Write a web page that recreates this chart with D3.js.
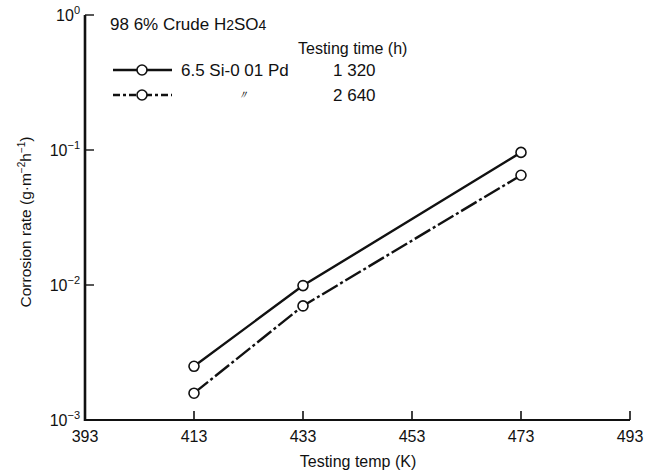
<!DOCTYPE html>
<html>
<head>
<meta charset="utf-8">
<script src="https://cdn.jsdelivr.net/npm/d3@7"></script>
<style>
  body { margin: 0; background: #fff; }
  text { font-family: "Liberation Sans", Arial, sans-serif; fill: #111; }
</style>
</head>
<body>
<svg id="chart" width="655" height="472"></svg>
<script>
// data
var temps = [413, 433, 473],
	rate1320 = [0.0025, 0.0099, 0.096],
	rate2640 = [0.00158, 0.0070, 0.065],
	xTicks = [393, 413, 433, 453, 473, 493],
	yExps = [0, -1, -2, -3],
	legendTimes = ["1 320", "2 640"];

var svg = d3.select("#chart"),
	x = d3.scaleLinear().domain([393, 493]).range([85, 630]),
	y = d3.scaleLog().domain([1e-3, 1]).range([420, 15]);

// axes lines
svg.append("line").attr("x1", x(393)).attr("x2", x(393)).attr("y1", y(1)).attr("y2", y(1e-3) + 1)
	.attr("stroke", "#111").attr("stroke-width", 2.6);
svg.append("line").attr("x1", x(393) - 1).attr("x2", x(493)).attr("y1", y(1e-3)).attr("y2", y(1e-3))
	.attr("stroke", "#111").attr("stroke-width", 2.2);

// x ticks (inward)
xTicks.forEach(function(t){
	if (t != 393)
		svg.append("line").attr("x1", x(t)).attr("x2", x(t)).attr("y1", y(1e-3)).attr("y2", y(1e-3) - 9)
			.attr("stroke", "#111").attr("stroke-width", 1.6);
	svg.append("text").attr("x", x(t)).attr("y", 442).attr("text-anchor", "middle")
		.attr("font-size", 16).text(t);
});

// y ticks
yExps.forEach(function(e){
	var v = Math.pow(10, e);
	if (e != -3)
		svg.append("line").attr("x1", x(393)).attr("x2", x(393) + 9).attr("y1", y(v)).attr("y2", y(v))
			.attr("stroke", "#111").attr("stroke-width", 1.4);
	var t = svg.append("text").attr("x", 80).attr("y", y(v) + 6).attr("text-anchor", "end").attr("font-size", 16);
	t.append("tspan").text("10");
	t.append("tspan").attr("dy", -7).attr("font-size", 11).text(e == 0 ? "0" : "\u2212" + (-e));
});

// axis titles
svg.append("text").attr("x", 358).attr("y", 467).attr("text-anchor", "middle").attr("font-size", 16)
	.text("Testing temp (K)");
var yl = svg.append("text").attr("transform", "translate(31,222) rotate(-90)")
	.attr("text-anchor", "middle").attr("font-size", 15.5);
yl.append("tspan").text("Corrosion rate (g\u00b7m");
yl.append("tspan").attr("dy", -6).attr("font-size", 10).text("\u22122");
yl.append("tspan").attr("dy", 6).text("h");
yl.append("tspan").attr("dy", -6).attr("font-size", 10).text("\u22121");
yl.append("tspan").attr("dy", 6).text(")");

// series
var series = [
	{ vals: rate1320, dash: null },
	{ vals: rate2640, dash: "18,3,3,3" }
];
var line = d3.line().x(function(d){ return x(d[0]); }).y(function(d){ return y(d[1]); });

series.forEach(function(s){
	var pts = temps.map(function(t, i){ return [t, s.vals[i]]; });
	svg.append("path").attr("d", line(pts)).attr("fill", "none").attr("stroke", "#111")
		.attr("stroke-width", 2.4).attr("stroke-dasharray", s.dash);
	svg.selectAll(null).data(pts).enter().append("circle")
		.attr("cx", function(d){ return x(d[0]); }).attr("cy", function(d){ return y(d[1]); })
		.attr("r", 5).attr("fill", "#fff").attr("stroke", "#111").attr("stroke-width", 1.6);
});

// legend
var h = svg.append("text").attr("x", 110).attr("y", 30).attr("font-size", 17);
h.append("tspan").text("98 6% Crude H");
h.append("tspan").attr("font-size", 14).text("2");
h.append("tspan").text("SO");
h.append("tspan").attr("font-size", 14).text("4");

svg.append("text").attr("x", 298).attr("y", 54).attr("font-size", 16).text("Testing time (h)");

[70, 95].forEach(function(ly, i){
	svg.append("line").attr("x1", 113).attr("x2", 172).attr("y1", ly).attr("y2", ly)
		.attr("stroke", "#111").attr("stroke-width", 2.4).attr("stroke-dasharray", i ? "7,3,3,3" : null);
	svg.append("circle").attr("cx", 142).attr("cy", ly).attr("r", 5)
		.attr("fill", "#fff").attr("stroke", "#111").attr("stroke-width", 1.6);
	svg.append("text").attr("x", 333).attr("y", ly + 6).attr("font-size", 17).text(legendTimes[i]);
});
svg.append("text").attr("x", 181).attr("y", 76).attr("font-size", 17).text("6.5 Si-0 01 Pd");
svg.append("text").attr("x", 237).attr("y", 99).attr("font-size", 12).attr("font-style", "italic").text("\u3003");
</script>
</body>
</html>
